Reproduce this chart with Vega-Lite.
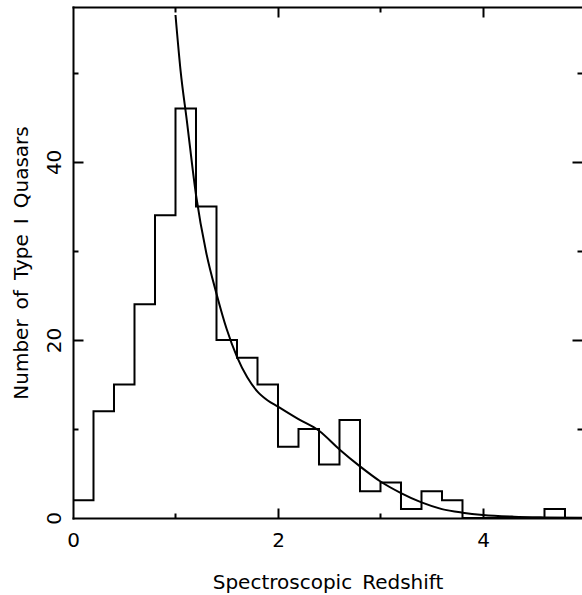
{
  "$schema": "https://vega.github.io/schema/vega-lite/v6.json",
  "width": 509,
  "height": 511,
  "autosize": {"type": "none"},
  "padding": {"left": 73, "top": 7, "right": 0, "bottom": 77},
  "background": "white",
  "config": {
    "view": {"stroke": null},
    "axis": {
      "grid": false,
      "domain": false,
      "domainColor": "black",
      "domainWidth": 2,
      "domainCap": "square",
      "tickColor": "black",
      "tickWidth": 2,
      "labelFont": "DejaVu Sans",
      "titleFont": "DejaVu Sans",
      "labelColor": "black",
      "titleColor": "black",
      "labelFontSize": 20,
      "titleFontSize": 20,
      "titleFontWeight": "normal",
      "labelFlush": false,
      "labelOverlap": false,
      "labels": false,
      "title": null
    }
  },
  "datasets": {
    "hist": [
      {"z": 0.0, "n": 2}, {"z": 0.2, "n": 12}, {"z": 0.4, "n": 15}, {"z": 0.6, "n": 24},
      {"z": 0.8, "n": 34}, {"z": 1.0, "n": 46}, {"z": 1.2, "n": 35}, {"z": 1.4, "n": 20},
      {"z": 1.6, "n": 18}, {"z": 1.8, "n": 15}, {"z": 2.0, "n": 8}, {"z": 2.2, "n": 10},
      {"z": 2.4, "n": 6}, {"z": 2.6, "n": 11}, {"z": 2.8, "n": 3}, {"z": 3.0, "n": 4},
      {"z": 3.2, "n": 1}, {"z": 3.4, "n": 3}, {"z": 3.6, "n": 2}, {"z": 3.8, "n": 0},
      {"z": 4.0, "n": 0}, {"z": 4.2, "n": 0}, {"z": 4.4, "n": 0}, {"z": 4.6, "n": 1},
      {"z": 4.8, "n": 0}, {"z": 5.0, "n": 0}
    ],
    "model": [
      {"z": 1.00, "n": 56.5}, {"z": 1.05, "n": 50.2}, {"z": 1.11, "n": 44.7}, {"z": 1.2, "n": 36.3},
      {"z": 1.3, "n": 29.8}, {"z": 1.4, "n": 25.2}, {"z": 1.5, "n": 21.2}, {"z": 1.6, "n": 18.1},
      {"z": 1.7, "n": 15.8}, {"z": 1.8, "n": 14.2}, {"z": 1.9, "n": 13.2}, {"z": 2.0, "n": 12.5},
      {"z": 2.2, "n": 11.1}, {"z": 2.4, "n": 9.8}, {"z": 2.6, "n": 7.7}, {"z": 2.8, "n": 5.8},
      {"z": 3.0, "n": 4.1}, {"z": 3.2, "n": 2.8}, {"z": 3.4, "n": 1.75}, {"z": 3.6, "n": 1.0},
      {"z": 3.8, "n": 0.6}, {"z": 4.0, "n": 0.34}, {"z": 4.3, "n": 0.15}, {"z": 4.6, "n": 0.07},
      {"z": 4.97, "n": 0.03}
    ]
  },
  "resolve": {"axis": {"x": "independent", "y": "independent"}},
  "layer": [
    {
      "data": {"name": "hist"},
      "mark": {"type": "line", "interpolate": "step-after", "color": "black", "strokeWidth": 2, "clip": true},
      "encoding": {
        "x": {"field": "z", "type": "quantitative", "scale": {"domain": [0, 4.966], "nice": false, "zero": false},
          "axis": {"orient": "bottom", "values": [0, 2, 4], "ticks": false, "labels": true, "labelAngle": 0, "labelPadding": 12, "domain": true, "title": "Spectroscopic\u2002Redshift", "titlePadding": 22}},
        "y": {"field": "n", "type": "quantitative", "scale": {"domain": [0, 57.4], "nice": false, "zero": false},
          "axis": {"orient": "left", "values": [0, 20, 40], "ticks": false, "labels": true, "labelAngle": -90, "labelAlign": "center", "labelBaseline": "bottom", "labelPadding": 9, "domain": true, "title": "Number\u2002of\u2002Type\u2002I\u2002Quasars", "titlePadding": 13}}
      }
    },
    {
      "data": {"name": "model"},
      "mark": {"type": "line", "interpolate": "monotone", "color": "black", "strokeWidth": 2, "clip": true},
      "encoding": {
        "x": {"field": "z", "type": "quantitative", "scale": {"domain": [0, 4.966], "nice": false, "zero": false},
          "axis": {"orient": "top", "values": [2, 4], "tickSize": -10, "domain": true}},
        "y": {"field": "n", "type": "quantitative", "scale": {"domain": [0, 57.4], "nice": false, "zero": false},
          "axis": {"orient": "right", "values": [20, 40], "tickSize": -10}}
      }
    },
    {
      "data": {"name": "hist"},
      "mark": {"type": "line", "opacity": 0},
      "encoding": {
        "x": {"field": "z", "type": "quantitative", "scale": {"domain": [0, 4.966], "nice": false, "zero": false},
          "axis": {"orient": "bottom", "values": [2, 4], "tickSize": -10}},
        "y": {"field": "n", "type": "quantitative", "scale": {"domain": [0, 57.4], "nice": false, "zero": false},
          "axis": {"orient": "left", "values": [20, 40], "tickSize": -10}}
      }
    },
    {
      "data": {"name": "hist"},
      "mark": {"type": "line", "opacity": 0},
      "encoding": {
        "x": {"field": "z", "type": "quantitative", "scale": {"domain": [0, 4.966], "nice": false, "zero": false},
          "axis": {"orient": "bottom", "values": [1, 3], "tickSize": -5}},
        "y": {"field": "n", "type": "quantitative", "scale": {"domain": [0, 57.4], "nice": false, "zero": false},
          "axis": {"orient": "left", "values": [10, 30, 50], "tickSize": -5}}
      }
    },
    {
      "data": {"name": "hist"},
      "mark": {"type": "line", "opacity": 0},
      "encoding": {
        "x": {"field": "z", "type": "quantitative", "scale": {"domain": [0, 4.966], "nice": false, "zero": false},
          "axis": {"orient": "top", "values": [1, 3], "tickSize": -5}},
        "y": {"field": "n", "type": "quantitative", "scale": {"domain": [0, 57.4], "nice": false, "zero": false},
          "axis": {"orient": "right", "values": [10, 30, 50], "tickSize": -5}}
      }
    }
  ]
}
